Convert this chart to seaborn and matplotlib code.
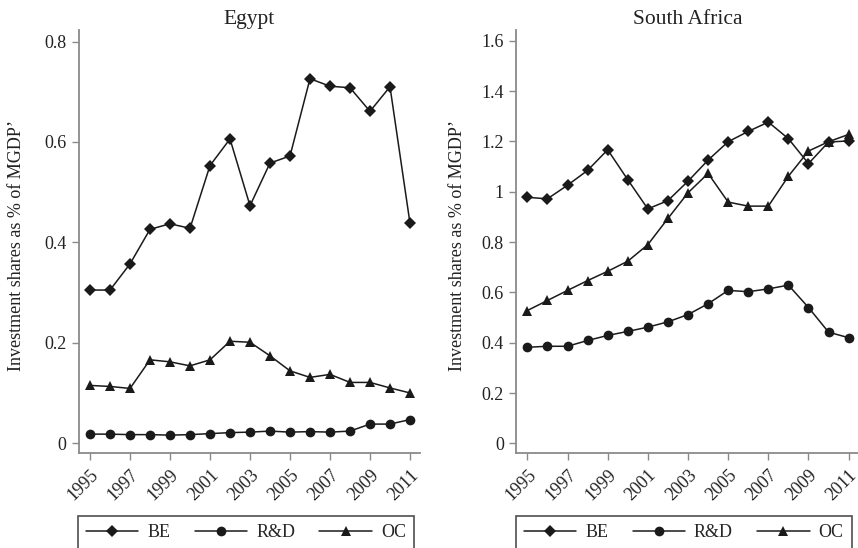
"""
Investment shares (BE, R&D, OC) as % of MGDP - Egypt vs South Africa
"""
import pandas as pd
import numpy as np
import matplotlib
matplotlib.use("Agg")
import matplotlib.pyplot as plt
import seaborn as sns

#---------------------------------------------
# Data
years = list(range(1995, 2012))

egypt_be = [0.305, 0.305, 0.357, 0.426, 0.437, 0.428, 0.553, 0.606, 0.473,
            0.558, 0.572, 0.726, 0.711, 0.708, 0.661, 0.710, 0.438]
egypt_rd = [0.018, 0.018, 0.017, 0.017, 0.016, 0.017, 0.019, 0.021, 0.022,
            0.024, 0.022, 0.023, 0.022, 0.024, 0.038, 0.038, 0.047]
egypt_oc = [0.115, 0.113, 0.109, 0.166, 0.162, 0.154, 0.166, 0.203, 0.201,
            0.174, 0.144, 0.131, 0.137, 0.121, 0.121, 0.110, 0.100]

sa_be = [0.978, 0.972, 1.026, 1.085, 1.167, 1.048, 0.932, 0.965, 1.042,
         1.126, 1.199, 1.240, 1.277, 1.211, 1.112, 1.198, 1.202]
sa_rd = [0.382, 0.386, 0.386, 0.409, 0.429, 0.445, 0.462, 0.483, 0.512,
         0.555, 0.608, 0.603, 0.614, 0.629, 0.540, 0.442, 0.420]
sa_oc = [0.528, 0.568, 0.608, 0.647, 0.684, 0.724, 0.790, 0.894, 0.996,
         1.073, 0.959, 0.943, 0.943, 1.062, 1.162, 1.199, 1.228]

series_names = ["BE", "R&D", "OC"]
markers = {"BE": "D", "R&D": "o", "OC": "^"}
msizes = {"BE": 6, "R&D": 7, "OC": 7}

egypt_ticks = [0, 0.2, 0.4, 0.6, 0.8]
egypt_ticklabels = ["0", "0.2", "0.4", "0.6", "0.8"]
sa_ticks = [0, 0.2, 0.4, 0.6, 0.8, 1.0, 1.2, 1.4, 1.6]
sa_ticklabels = ["0", "0.2", "0.4", "0.6", "0.8", "1", "1.2", "1.4", "1.6"]
year_ticks = list(range(1995, 2012, 2))

ylab = "Investment shares as % of MGDP\u2019"

#---------------------------------------------
# long dataframes
def make_df(be, rd, oc):
    d = pd.DataFrame({"year": years, "BE": be, "R&D": rd, "OC": oc})
    return d.melt(id_vars="year", var_name="series", value_name="share")

egypt_df = make_df(egypt_be, egypt_rd, egypt_oc)
sa_df = make_df(sa_be, sa_rd, sa_oc)

#---------------------------------------------
sns.set_style("white")
plt.rcParams["font.family"] = ["Liberation Serif", "DejaVu Serif"]
plt.rcParams["mathtext.default"] = "regular"

fig = plt.figure(figsize=(8.58, 5.48), dpi=100)
W, H = 858, 548

panels = [
    # title, df, ticks, labels, ylim, axes rect px (left, top, right, bottom), ylabel x
    ("Egypt", egypt_df, egypt_ticks, egypt_ticklabels, (-0.019, 0.823),
     (79, 30, 420, 452.7), -0.158, (78, 414)),
    ("South Africa", sa_df, sa_ticks, sa_ticklabels, (-0.037, 1.643),
     (516.3, 30, 858.7, 452.7), -0.147, (515.7, 851.7)),
]

spine_col = "#8a8a8a"
line_col = "#1a1a1a"

for title, df, ticks, labels, ylim, rect, ylx, leg_x in panels:
    l, t, r, b = rect
    ax = fig.add_axes([l / W, 1 - b / H, (r - l) / W, (b - t) / H])
    for name in series_names:
        sub = df[df["series"] == name]
        sns.lineplot(data=sub, x="year", y="share", ax=ax, color=line_col,
                     marker=markers[name], markersize=msizes[name],
                     markeredgewidth=0, linewidth=1.1, label=name,
                     legend=False)
    ax.set_xlim(1994.45, 2011.5)
    ax.set_ylim(*ylim)
    ax.set_yticks(ticks)
    ax.set_yticklabels(labels)
    ax.set_xticks(year_ticks)
    ax.set_xticklabels([str(y) for y in year_ticks], rotation=45,
                       ha="right", rotation_mode="anchor")
    ax.set_xlabel("")
    ax.set_ylabel(ylab, fontsize=13, color="#222222")
    ax.yaxis.set_label_coords(ylx, 0.49)
    ax.set_title(title, fontsize=15.5, pad=4, color="#222222")

    for s in ["top", "right"]:
        ax.spines[s].set_visible(False)
    for s in ["left", "bottom"]:
        ax.spines[s].set_color(spine_col)
        ax.spines[s].set_linewidth(1.3)
    ax.tick_params(axis="both", direction="out", length=5, width=1,
                   color=spine_col, labelsize=13, labelcolor="#222222",
                   left=True, bottom=True)
    ax.tick_params(axis="x", pad=5)
    ax.tick_params(axis="y", pad=4)

    handles, hl = ax.get_legend_handles_labels()
    x0, x1 = leg_x
    leg = ax.legend(handles, hl, ncol=3, loc="upper left",
                    bbox_to_anchor=(x0 / W, 0, (x1 - x0) / W, 1 - 516 / H),
                    bbox_transform=fig.transFigure, mode="expand",
                    frameon=True, fancybox=False, fontsize=13,
                    handlelength=2.9, handletextpad=0.5, columnspacing=1.4,
                    borderpad=0.45, borderaxespad=0)
    leg.get_frame().set_edgecolor("#222222")
    leg.get_frame().set_linewidth(1.2)

fig.savefig("out.png", dpi=100)
